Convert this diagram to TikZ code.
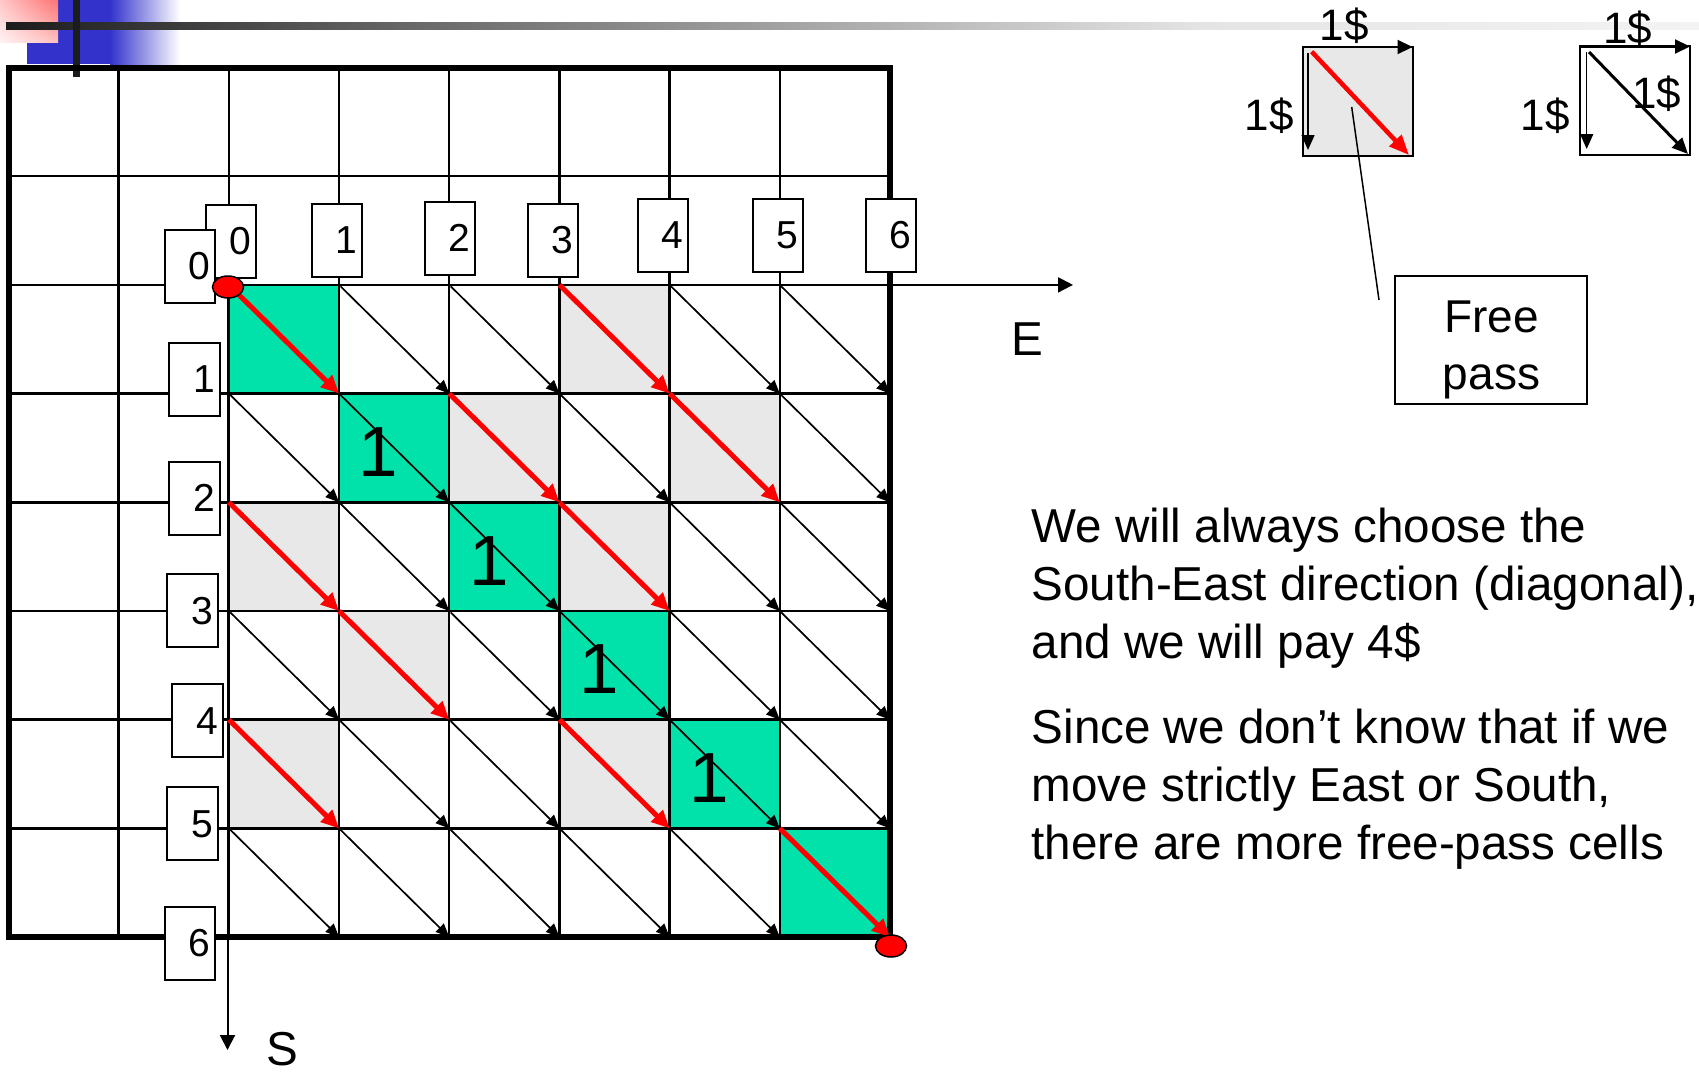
\documentclass[tikz,border=0pt]{standalone}
\usepackage{fontspec}
\setmainfont{Liberation Sans}
\usetikzlibrary{arrows.meta,shapes.geometric,shadings}
\definecolor{cellgreen}{RGB}{0,226,170}
\definecolor{cellgray}{RGB}{232,232,232}
\definecolor{bblue}{RGB}{51,51,204}
\definecolor{bardark}{RGB}{28,28,28}
\definecolor{barmid}{RGB}{102,102,102}
\definecolor{barlight}{RGB}{228,228,228}
\definecolor{barend}{RGB}{243,243,243}
\begin{document}
\begin{tikzpicture}[x=1pt,y=-1pt,
  gridline/.style={line width=2.5pt},
  blkarrow/.style={line width=1.7pt,-{Triangle[length=13.5pt,width=11.5pt]}},
  redarrow/.style={draw=red,line width=5pt,-{Triangle[length=18pt,width=16pt]}},
  axisarrow/.style={line width=2pt,-{Triangle[length=15pt,width=15pt]}},
  lbl/.style={draw,line width=2pt,fill=white,minimum height=73pt,text width=40.5pt,
    inner xsep=5pt,inner ysep=0pt,align=right,font=\fontsize{39}{39}\selectfont},
  onetext/.style={font=\fontsize{71}{71}\selectfont,inner sep=0pt},
  bigtext/.style={font=\fontsize{47.6}{57}\selectfont,inner sep=0pt},
  costtext/.style={font=\fontsize{44}{44}\selectfont,inner sep=0pt,anchor=base},
  dot/.style={ellipse,draw,line width=1.5pt,fill=red,minimum width=31pt,minimum height=22pt,inner sep=0pt},
  smallbox/.style={draw,line width=2pt,minimum width=110pt,minimum height=109pt,inner sep=0pt},
]
\useasboundingbox (0,0) rectangle (1699,1071);

% ---------- top decoration ----------
\fill[bblue] (27,0) rectangle (110,64);
\shade[left color=bblue,right color=white] (110,0) rectangle (180,64);
\shade[upper right=red!55!white,upper left=red!22!white,lower right=red!25!white,lower left=red!5!white] (0,0) rectangle (58,42);
\shade[left color=bardark,right color=barmid] (6,22.7) rectangle (400,29.3);
\shade[left color=barmid,right color=barlight] (399.5,22.7) rectangle (1200,29.3);
\shade[left color=barlight,right color=barend] (1199.5,22.7) rectangle (1699,29.3);
\fill[bardark] (73,0) rectangle (80,77);

% ---------- grid coordinates ----------
\foreach \i in {0,...,6} {
  \foreach \j in {0,...,6} {
    \coordinate (g\i\j) at ({228.9+110.18*\i},{284.9+108.7*\j});
  }
}

% ---------- cell fills ----------
\foreach \i/\j in {3/0,2/1,4/1,0/2,3/2,1/3,0/4,3/4} {
  \pgfmathtruncatemacro\ii{\i+1}\pgfmathtruncatemacro\jj{\j+1}
  \fill[cellgray] (g\i\j) rectangle (g\ii\jj);
}
\foreach \k in {0,...,5} {
  \pgfmathtruncatemacro\kk{\k+1}
  \fill[cellgreen] (g\k\k) rectangle (g\kk\kk);
}

% ---------- grid ----------
\foreach \k in {1,...,7} {
  \draw[gridline] ({8.5+110.18*\k},67.5) -- ({8.5+110.18*\k},937.1);
  \draw[gridline] (8.5,{67.5+108.7*\k}) -- (889.9,{67.5+108.7*\k});
}
\draw[line width=6pt] (8.5,67.5) rectangle (889.9,937.1);

% ---------- axes ----------
\coordinate (eend) at (1073,284.9);
\coordinate (sorig) at (227.5,284.9);
\coordinate (send) at (227.5,1050);
\draw[axisarrow] (g00) -- (eend);
\draw[axisarrow] (sorig) -- (send);
\node[bigtext,anchor=base] (elab) at (1027.5,355.7) {E};
\node[bigtext,anchor=base] (slab) at (282.5,1065) {S};

% ---------- diagonal arrows ----------
\foreach \i/\j in {1/0,2/0,4/0,5/0, 0/1,1/1,3/1,5/1, 1/2,2/2,4/2,5/2,
                   0/3,2/3,3/3,4/3,5/3, 1/4,2/4,4/4,5/4, 0/5,1/5,2/5,3/5,4/5} {
  \pgfmathtruncatemacro\ii{\i+1}\pgfmathtruncatemacro\jj{\j+1}
  \draw[blkarrow,shorten <=2pt] (g\i\j) -- (g\ii\jj);
}
\foreach \i/\j in {0/0,3/0,2/1,4/1,0/2,3/2,1/3,0/4,3/4,5/5} {
  \pgfmathtruncatemacro\ii{\i+1}\pgfmathtruncatemacro\jj{\j+1}
  \draw[redarrow] (g\i\j) -- (g\ii\jj);
}

% ---------- "1" in green cells ----------
\foreach \k in {1,...,4} {
  \node[onetext] (one\k) at ({228.9+110.18*(\k+0.5)-15.5},{284.9+108.7*(\k+0.5)+4}) {1};
}

% ---------- index labels ----------
\node[lbl] (tx0) at (230.8,241.5) {0};
\node[lbl] (tx1) at (337,240.5) {1};
\node[lbl] (tx2) at (450,238) {2};
\node[lbl] (tx3) at (553,240.5) {3};
\node[lbl] (tx4) at (663,235.5) {4};
\node[lbl] (tx5) at (778,235.5) {5};
\node[lbl] (tx6) at (891,235.5) {6};
\node[lbl] (ly0) at (190,266) {0};
\node[lbl] (ly1) at (194.5,379) {1};
\node[lbl] (ly2) at (194.7,498.3) {2};
\node[lbl] (ly3) at (192.5,610.8) {3};
\node[lbl] (ly4) at (197.5,720.7) {4};
\node[lbl] (ly5) at (192.5,823.8) {5};
\node[lbl] (ly6) at (190.2,943.5) {6};

% ---------- start / end dots ----------
\node[dot] (startdot) at (228,287) {};
\node[dot] (enddot) at (891,946) {};

% ---------- legend boxes ----------
\node[smallbox,fill=cellgray] (gb) at (1357.7,101.2) {};
\node[smallbox] (wb) at (1635.3,100.5) {};
\coordinate (gbt1) at (1302.7,47); \coordinate (gbt2) at (1412.5,47);
\coordinate (gbl1) at (1308,53);   \coordinate (gbl2) at (1308,150);
\coordinate (gbd1) at (1311.7,51.7); \coordinate (gbd2) at (1409,155);
\draw[line width=2pt,-{Triangle[length=15pt,width=14pt]}] (gbt1) -- (gbt2);
\draw[line width=1.5pt,-{Triangle[length=15pt,width=13pt]}] (gbl1) -- (gbl2);
\draw[draw=red,line width=4.5pt,-{Triangle[length=20pt,width=16pt]}] (gbd1) -- (gbd2);
\coordinate (wbt1) at (1580,46.5); \coordinate (wbt2) at (1690,46.5);
\coordinate (wbl1) at (1586.7,52);  \coordinate (wbl2) at (1586.7,149);
\coordinate (wbd1) at (1589,52);    \coordinate (wbd2) at (1688,154);
\draw[line width=2pt,-{Triangle[length=15pt,width=14pt]}] (wbt1) -- (wbt2);
\draw[line width=1.5pt,-{Triangle[length=15pt,width=13pt]}] (wbl1) -- (wbl2);
\draw[line width=3pt,-{Triangle[length=16pt,width=14pt]}] (wbd1) -- (wbd2);
\node[costtext] (c1) at (1344,40.5) {1\$};
\node[costtext] (c2) at (1269,130) {1\$};
\node[costtext] (c3) at (1627.5,43) {1\$};
\node[costtext] (c4) at (1545.3,130) {1\$};
\node[costtext] (c5) at (1656.7,108) {1\$};

% ---------- free pass ----------
\node[draw,line width=2pt,minimum width=192pt,minimum height=128pt,inner sep=0pt] (fp) at (1491,340) {};
\node[font=\fontsize{46}{46}\selectfont,inner sep=0pt,anchor=base] (fpa) at (1491.5,332) {Free};
\node[font=\fontsize{46}{46}\selectfont,inner sep=0pt,anchor=base] (fpb) at (1491.5,389.5) {pass};
\coordinate (lead1) at (1351.7,107);
\coordinate (lead2) at (1379,300);
\draw[line width=1.5pt] (lead1) -- (lead2);

% ---------- explanation text ----------
\node[bigtext,anchor=base west] (t1) at (1031.5,542) {We will always choose the};
\node[bigtext,anchor=base west] (t2) at (1031.5,600) {South-East direction (diagonal),};
\node[bigtext,anchor=base west] (t3) at (1031.5,658) {and we will pay 4\$};
\node[bigtext,anchor=base west] (t4) at (1031.5,743.5) {Since we don’t know that if we};
\node[bigtext,anchor=base west] (t5) at (1031.5,801.5) {move strictly East or South,};
\node[bigtext,anchor=base west] (t6) at (1031.5,859.5) {there are more free-pass cells};
\end{tikzpicture}
\end{document}
